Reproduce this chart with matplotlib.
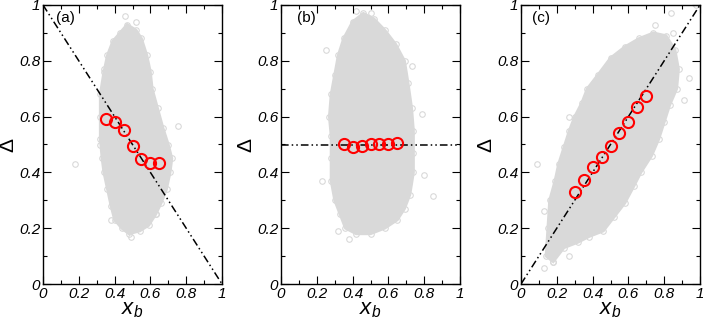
import matplotlib
matplotlib.use("Agg")
import matplotlib.pyplot as plt
from matplotlib.patches import Polygon
from matplotlib.ticker import MultipleLocator

plt.rcParams['font.family'] = ['Liberation Sans', 'DejaVu Sans']
plt.rcParams['mathtext.fontset'] = 'custom'
plt.rcParams['mathtext.it'] = 'Liberation Sans:italic'
plt.rcParams['mathtext.rm'] = 'Liberation Sans'

# binned averages (red circles)
xa = [0.35, 0.40, 0.45, 0.50, 0.55, 0.60, 0.65]
ya = [0.592, 0.582, 0.551, 0.494, 0.447, 0.433, 0.432]
xb = [0.35, 0.40, 0.45, 0.50, 0.55, 0.60, 0.65]
yb = [0.502, 0.492, 0.496, 0.501, 0.503, 0.503, 0.505]
xc = [0.30, 0.35, 0.40, 0.45, 0.50, 0.55, 0.60, 0.65, 0.70]
yc = [0.328, 0.373, 0.418, 0.456, 0.494, 0.542, 0.580, 0.636, 0.675]

# outline of the dense grey cloud
cloud_a = [(0.43, 0.90), (0.47, 0.93), (0.52, 0.91), (0.55, 0.88), (0.58, 0.82), (0.60, 0.76),
           (0.61, 0.70), (0.64, 0.63), (0.67, 0.56), (0.70, 0.50), (0.72, 0.45), (0.71, 0.40),
           (0.69, 0.34), (0.66, 0.29), (0.63, 0.25), (0.59, 0.21), (0.54, 0.19), (0.48, 0.18),
           (0.44, 0.20), (0.40, 0.23), (0.38, 0.28), (0.36, 0.34), (0.34, 0.40), (0.33, 0.45),
           (0.32, 0.52), (0.32, 0.60), (0.32, 0.68), (0.34, 0.76), (0.36, 0.82), (0.39, 0.87)]
cloud_b = [(0.40, 0.94), (0.46, 0.97), (0.52, 0.95), (0.58, 0.91), (0.64, 0.86), (0.69, 0.80),
           (0.71, 0.72), (0.73, 0.63), (0.74, 0.55), (0.74, 0.47), (0.74, 0.40), (0.72, 0.32),
           (0.69, 0.27), (0.65, 0.23), (0.58, 0.20), (0.50, 0.18), (0.42, 0.18), (0.36, 0.20),
           (0.33, 0.25), (0.30, 0.30), (0.28, 0.37), (0.28, 0.45), (0.28, 0.53), (0.27, 0.60),
           (0.28, 0.68), (0.30, 0.75), (0.32, 0.82), (0.35, 0.88)]
cloud_c = [(0.14, 0.10), (0.15, 0.20), (0.16, 0.30), (0.19, 0.37), (0.21, 0.43), (0.24, 0.49),
           (0.27, 0.55), (0.30, 0.60), (0.34, 0.65), (0.37, 0.70), (0.43, 0.75), (0.50, 0.81),
           (0.58, 0.85), (0.66, 0.88), (0.74, 0.90), (0.81, 0.89), (0.86, 0.84), (0.88, 0.77),
           (0.87, 0.70), (0.83, 0.64), (0.80, 0.58), (0.77, 0.52), (0.73, 0.46), (0.67, 0.40),
           (0.63, 0.35), (0.58, 0.29), (0.52, 0.24), (0.46, 0.19), (0.38, 0.17), (0.32, 0.15),
           (0.24, 0.13), (0.18, 0.08)]

# stray grey points outside the dense cloud
out_a_x = [0.18, 0.756, 0.32, 0.52, 0.49, 0.63, 0.34, 0.46, 0.38]
out_a_y = [0.43, 0.566, 0.50, 0.94, 0.17, 0.25, 0.77, 0.96, 0.23]
out_b_x = [0.25, 0.85, 0.79, 0.42, 0.23, 0.38, 0.32, 0.73, 0.50, 0.80]
out_b_y = [0.84, 0.314, 0.61, 0.98, 0.37, 0.16, 0.19, 0.78, 0.97, 0.39]
out_c_x = [0.98, 0.84, 0.94, 0.91, 0.09, 0.13, 0.27, 0.13, 0.27, 0.75, 0.85, 0.18]
out_c_y = [1.00, 0.97, 0.74, 0.66, 0.43, 0.056, 0.10, 0.26, 0.60, 0.93, 0.90, 0.08]

# guide lines
line_a_x, line_a_y = [0, 1], [1, 0]
line_b_x, line_b_y = [0, 1], [0.5, 0.5]
line_c_x, line_c_y = [0, 1], [0, 1]

ticks = [0, 0.2, 0.4, 0.6, 0.8, 1.0]
tick_labels = ['0', '0.2', '0.4', '0.6', '0.8', '1']

panels = [
    ('(a)', cloud_a, out_a_x, out_a_y, line_a_x, line_a_y, xa, ya, 43, 0.07),
    ('(b)', cloud_b, out_b_x, out_b_y, line_b_x, line_b_y, xb, yb, 281, 0.09),
    ('(c)', cloud_c, out_c_x, out_c_y, line_c_x, line_c_y, xc, yc, 521, 0.06),
]

W, H = 703, 322
fig = plt.figure(figsize=(W / 100, H / 100), dpi=100)
grey = '#d9d9d9'

for tag, cloud, ox, oy, lx, ly, mx, my, left_px, tag_x in panels:
    ax = fig.add_axes([left_px / W, 38 / H, 179 / W, 279 / H])
    ax.add_patch(Polygon(cloud, closed=True, facecolor=grey, edgecolor=grey, lw=2, zorder=1))
    # ragged rim: open circles on the outline points
    cx = [p[0] for p in cloud]
    cy = [p[1] for p in cloud]
    ax.plot(cx, cy, 'o', mfc='none', mec=grey, ms=4, mew=0.8, zorder=1)
    ax.plot(ox, oy, 'o', mfc='none', mec=grey, ms=4, mew=0.8, zorder=1)
    ax.plot(lx, ly, color='black', lw=1.1, dashes=(5, 2, 1, 2, 1, 2), zorder=2)
    ax.plot(mx, my, 'o', mfc='none', mec='red', ms=8, mew=1.5, zorder=3)
    ax.text(tag_x, 0.955, tag, transform=ax.transAxes, fontsize=11, va='center')

    ax.set_xlim(0, 1)
    ax.set_ylim(0, 1)
    ax.set_xticks(ticks)
    ax.set_yticks(ticks)
    ax.set_xticklabels(tick_labels, style='italic')
    ax.set_yticklabels(tick_labels, style='italic')
    ax.xaxis.set_minor_locator(MultipleLocator(0.1))
    ax.yaxis.set_minor_locator(MultipleLocator(0.1))
    ax.tick_params(which='both', direction='in', top=True, right=True, labelsize=11, pad=2)
    ax.tick_params(which='major', length=6, width=0.8)
    ax.tick_params(which='minor', length=3, width=0.8)
    for s in ax.spines.values():
        s.set_linewidth(1.0)
    ax.set_xlabel(r'$x_b$', fontsize=16, labelpad=-1)
    ax.set_ylabel('Δ', fontsize=15, labelpad=1)

fig.savefig('out.png', dpi=100)
